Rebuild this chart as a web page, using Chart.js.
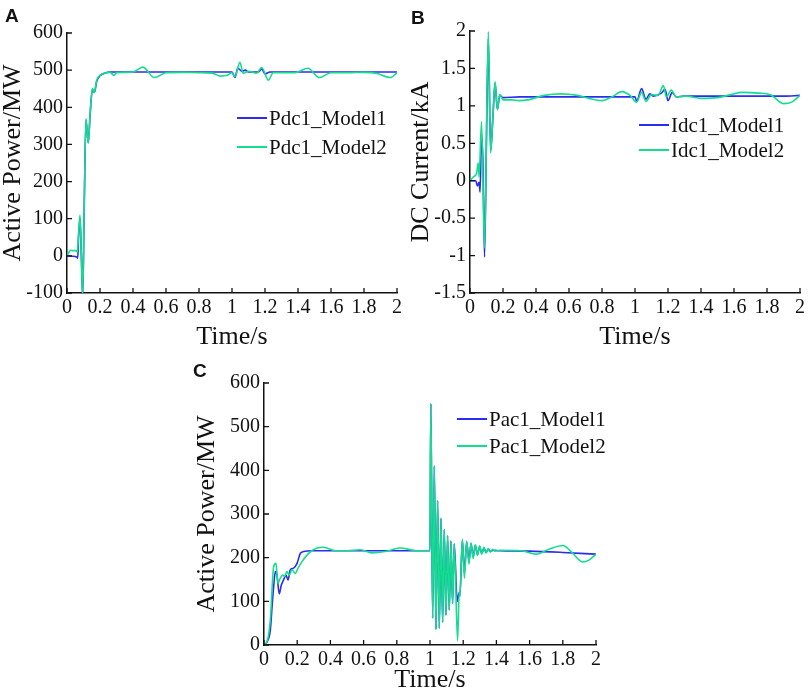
<!DOCTYPE html>
<html>
<head>
<meta charset="utf-8">
<script src="https://cdn.jsdelivr.net/npm/chart.js@4.4.1/dist/chart.umd.min.js"></script>
<style>
  body { margin: 0; background: #fff; }
  #wrap { position: relative; width: 809px; height: 693px; overflow: hidden; }
  canvas { position: absolute; }
  .tag { position: absolute; font: bold 19px "Liberation Sans", Arial, sans-serif; color: #111; }
</style>
</head>
<body>
<div id="wrap">
  <canvas id="chartA" width="405" height="350" style="left:0;top:0"></canvas>
  <canvas id="chartB" width="401" height="350" style="left:408px;top:0"></canvas>
  <canvas id="chartC" width="426" height="348" style="left:194px;top:345px"></canvas>
  <div class="tag" style="left:5px;top:5px">A</div>
  <div class="tag" style="left:411px;top:7px">B</div>
  <div class="tag" style="left:193px;top:360px">C</div>
</div>
<script>
// ---- data ----
// A: DC active power (MW)
const timeA1 = [0, 0.03, 0.058, 0.065, 0.07, 0.079, 0.087, 0.095, 0.105, 0.115, 0.129, 0.14, 0.154, 0.166, 0.18, 0.2, 0.23, 0.26, 0.3, 0.6, 0.9, 1.0, 1.018, 1.035, 1.06, 1.08, 1.1, 1.16, 1.18, 1.2, 1.23, 1.5, 1.8, 2.0];
const powerA1 = [0, -1, -3, -6, 50, 100, 0, -110, 150, 365, 305, 380, 448, 440, 470, 485, 492, 495, 495, 495, 495, 495, 480, 505, 497, 500, 495, 495, 503, 490, 495, 495, 495, 495];
const timeA2 = [0, 0.01, 0.02, 0.04, 0.055, 0.063, 0.07, 0.079, 0.087, 0.095, 0.105, 0.115, 0.129, 0.14, 0.154, 0.166, 0.18, 0.2, 0.23, 0.26, 0.285, 0.3, 0.35, 0.4, 0.46, 0.53, 0.6, 0.7, 0.8, 0.88, 0.93, 0.97, 1.0, 1.018, 1.048, 1.068, 1.1, 1.15, 1.18, 1.22, 1.25, 1.3, 1.38, 1.46, 1.53, 1.6, 1.7, 1.8, 1.88, 1.96, 2.0];
const powerA2 = [0, 8, 15, 14, 14, 10, 60, 110, 0, -110, 150, 370, 303, 380, 451, 440, 473, 486, 492, 494, 486, 493, 494, 495, 508, 480, 493, 494, 493, 492, 484, 486, 493, 483, 521, 492, 497, 492, 507, 473, 493, 493, 493, 505, 480, 493, 493, 494, 491, 480, 493];

// B: DC current (kA)
const timeB1 = [0, 0.035, 0.045, 0.055, 0.061, 0.07, 0.079, 0.088, 0.1, 0.111, 0.125, 0.14, 0.152, 0.166, 0.18, 0.2, 0.3, 0.5, 0.7, 0.9, 1.0, 1.01, 1.04, 1.066, 1.09, 1.11, 1.16, 1.182, 1.2, 1.226, 1.25, 1.3, 1.5, 1.7, 1.9, 2.0];
const currentB1 = [0, 0, -0.07, -0.02, -0.15, 0.62, 0.2, -1.02, 0.6, 1.9, 0.4, 0.9, 1.3, 0.95, 1.14, 1.11, 1.12, 1.12, 1.12, 1.12, 1.12, 1.06, 1.23, 1.09, 1.16, 1.13, 1.17, 1.22, 1.07, 1.18, 1.12, 1.13, 1.13, 1.13, 1.13, 1.14];
const timeB2 = [0, 0.02, 0.04, 0.05, 0.055, 0.07, 0.088, 0.111, 0.125, 0.14, 0.152, 0.166, 0.18, 0.2, 0.25, 0.3, 0.35, 0.45, 0.55, 0.65, 0.72, 0.8, 0.86, 0.92, 0.97, 1.01, 1.04, 1.066, 1.1, 1.14, 1.172, 1.19, 1.22, 1.25, 1.31, 1.4, 1.5, 1.58, 1.65, 1.75, 1.82, 1.9, 1.95, 2.0];
const currentB2 = [0, 0.05, 0.1, 0.24, 0.05, 0.79, -0.9, 1.99, 0.37, 0.9, 1.32, 0.95, 1.15, 1.08, 1.08, 1.07, 1.08, 1.14, 1.16, 1.14, 1.1, 1.07, 1.12, 1.19, 1.14, 1.05, 1.18, 1.06, 1.15, 1.14, 1.27, 1.12, 1.21, 1.12, 1.13, 1.1, 1.11, 1.15, 1.18, 1.17, 1.15, 1.03, 1.05, 1.14];

// C: AC active power (MW)
const timeC1 = [0, 0.02, 0.038, 0.05, 0.058, 0.068, 0.078, 0.092, 0.104, 0.118, 0.132, 0.145, 0.158, 0.178, 0.199, 0.219, 0.239, 0.289, 0.5, 0.8, 1.0, 1.005, 1.016, 1.026, 1.036, 1.046, 1.056, 1.066, 1.076, 1.086, 1.096, 1.106, 1.116, 1.126, 1.136, 1.146, 1.164, 1.176, 1.18, 1.195, 1.207, 1.221, 1.235, 1.247, 1.26, 1.273, 1.286, 1.299, 1.312, 1.325, 1.338, 1.351, 1.364, 1.38, 1.42, 1.6, 1.8, 2.0];
const powerC1 = [0, 8, 34, 95, 133, 168, 160, 117, 137, 149, 160, 149, 172, 176, 187, 210, 214, 216, 216, 216, 216, 553, 62, 410, 36, 330, 38, 290, 52, 265, 68, 250, 80, 238, 95, 232, 100, 120, 112, 240, 165, 236, 192, 232, 202, 228, 207, 225, 210, 222, 212, 220, 214, 217, 216, 215, 212, 208];
const timeC2 = [0, 0.02, 0.038, 0.058, 0.072, 0.084, 0.098, 0.112, 0.124, 0.138, 0.152, 0.168, 0.188, 0.205, 0.229, 0.269, 0.319, 0.359, 0.43, 0.5, 0.58, 0.65, 0.73, 0.82, 0.92, 1.0, 1.005, 1.016, 1.026, 1.036, 1.046, 1.056, 1.066, 1.076, 1.086, 1.096, 1.106, 1.116, 1.126, 1.136, 1.146, 1.166, 1.176, 1.18, 1.195, 1.207, 1.221, 1.235, 1.247, 1.26, 1.273, 1.286, 1.299, 1.312, 1.325, 1.338, 1.351, 1.364, 1.377, 1.39, 1.42, 1.55, 1.64, 1.72, 1.8, 1.86, 1.92, 1.96, 2.0];
const powerC2 = [0, 10, 57, 179, 187, 141, 153, 160, 157, 168, 160, 172, 164, 176, 191, 210, 222, 224, 216, 216, 218, 211, 214, 222, 216, 217, 553, 62, 410, 36, 330, 38, 290, 52, 265, 68, 250, 80, 238, 95, 232, 10, 120, 112, 242, 153, 238, 185, 234, 198, 230, 205, 227, 208, 224, 211, 221, 213, 219, 215, 217, 216, 208, 220, 228, 210, 190, 195, 208];

const xTicksEnd = 2;
const blue = '#2b2bf2';
const green = '#12de8e';
const serif = '"Liberation Serif", "DejaVu Serif", serif';

function pts(ts, vs) {
  return ts.map((t, i) => ({ x: t, y: vs[i] }));
}

// matlab style labels: 1 not 1.0
function shortNum(v) {
  return String(Number(v.toFixed(2)));
}

// ticks drawn inward, MATLAB-like
const inwardTicks = {
  id: 'inwardTicks',
  afterDraw(chart) {
    const { ctx, chartArea: a, scales } = chart;
    ctx.save();
    ctx.strokeStyle = '#111';
    ctx.lineWidth = 1.3;
    ctx.beginPath();
    scales.x.ticks.forEach((t, i) => {
      const px = scales.x.getPixelForTick(i);
      ctx.moveTo(px, a.bottom);
      ctx.lineTo(px, a.bottom - 5);
    });
    scales.y.ticks.forEach((t, i) => {
      const py = scales.y.getPixelForTick(i);
      ctx.moveTo(a.left, py);
      ctx.lineTo(a.left + 5, py);
    });
    ctx.stroke();
    ctx.restore();
  }
};

// legend without box, inside the plot
const inlineLegend = {
  id: 'inlineLegend',
  afterDraw(chart, args, opts) {
    const ctx = chart.ctx;
    ctx.save();
    ctx.font = '21px ' + serif;
    ctx.textBaseline = 'middle';
    chart.data.datasets.forEach((ds, i) => {
      const y = opts.y + i * opts.dy;
      ctx.strokeStyle = ds.borderColor;
      ctx.lineWidth = 2;
      ctx.beginPath();
      ctx.moveTo(opts.x, y);
      ctx.lineTo(opts.x + 30, y);
      ctx.stroke();
      ctx.fillStyle = '#111';
      ctx.fillText(ds.label, opts.x + 32, y + 1);
    });
    ctx.restore();
  }
};

function makeChart(id, names, s1, s2, yMin, yMax, yStep, yTitle, box) {
  return new Chart(document.getElementById(id), {
    type: 'line',
    data: {
      datasets: [
        { label: names[0], data: s1, borderColor: blue, borderWidth: 1.6, pointRadius: 0, order: 1, cubicInterpolationMode: 'monotone' },
        { label: names[1], data: s2, borderColor: green, borderWidth: 1.6, pointRadius: 0, order: 0, cubicInterpolationMode: 'monotone' },
      ],
    },
    options: {
      responsive: false,
      animation: false,
      layout: { padding: { left: 0, top: box.top, right: box.right, bottom: 0 } },
      plugins: {
        legend: { display: false },
        tooltip: { enabled: false },
        inlineLegend: box.legend,
      },
      scales: {
        x: {
          type: 'linear',
          min: 0,
          max: xTicksEnd,
          grid: { display: false, drawTicks: false },
          border: { display: true, color: '#111', width: 1.5 },
          ticks: { stepSize: 0.2, autoSkip: false, maxRotation: 0, minRotation: 0, padding: 3, color: '#111', font: { family: serif, size: 20 }, callback: shortNum },
          title: { display: true, text: 'Time/s', color: '#111', padding: 0, font: { family: serif, size: 26, lineHeight: 1 } },
          afterFit(scale) { scale.height = box.xh; },
        },
        y: {
          min: yMin,
          max: yMax,
          grid: { display: false, drawTicks: false },
          border: { display: true, color: '#111', width: 1.5 },
          ticks: { stepSize: yStep, autoSkip: false, padding: 4, color: '#111', font: { family: serif, size: 20 }, callback: shortNum },
          title: { display: true, text: yTitle, color: '#111', padding: 0, font: { family: serif, size: 26, lineHeight: 1 } },
          afterFit(scale) { scale.width = box.yw; },
        },
      },
    },
    plugins: [inwardTicks, inlineLegend],
  });
}

makeChart('chartA', ['Pdc1_Model1', 'Pdc1_Model2'], pts(timeA1, powerA1), pts(timeA2, powerA2),
  -100, 600, 100, 'Active Power/MW',
  { top: 33, right: 8, xh: 57, yw: 67, legend: { x: 237, y: 118, dy: 29 } });

makeChart('chartB', ['Idc1_Model1', 'Idc1_Model2'], pts(timeB1, currentB1), pts(timeB2, currentB2),
  -1.5, 2, 0.5, 'DC Current/kA',
  { top: 31, right: 9, xh: 57, yw: 62, legend: { x: 231, y: 125, dy: 25 } });

makeChart('chartC', ['Pac1_Model1', 'Pac1_Model2'], pts(timeC1, powerC1), pts(timeC2, powerC2),
  0, 600, 100, 'Active Power/MW',
  { top: 38, right: 24, xh: 48, yw: 70, legend: { x: 263, y: 74, dy: 27 } });
</script>
</body>
</html>
